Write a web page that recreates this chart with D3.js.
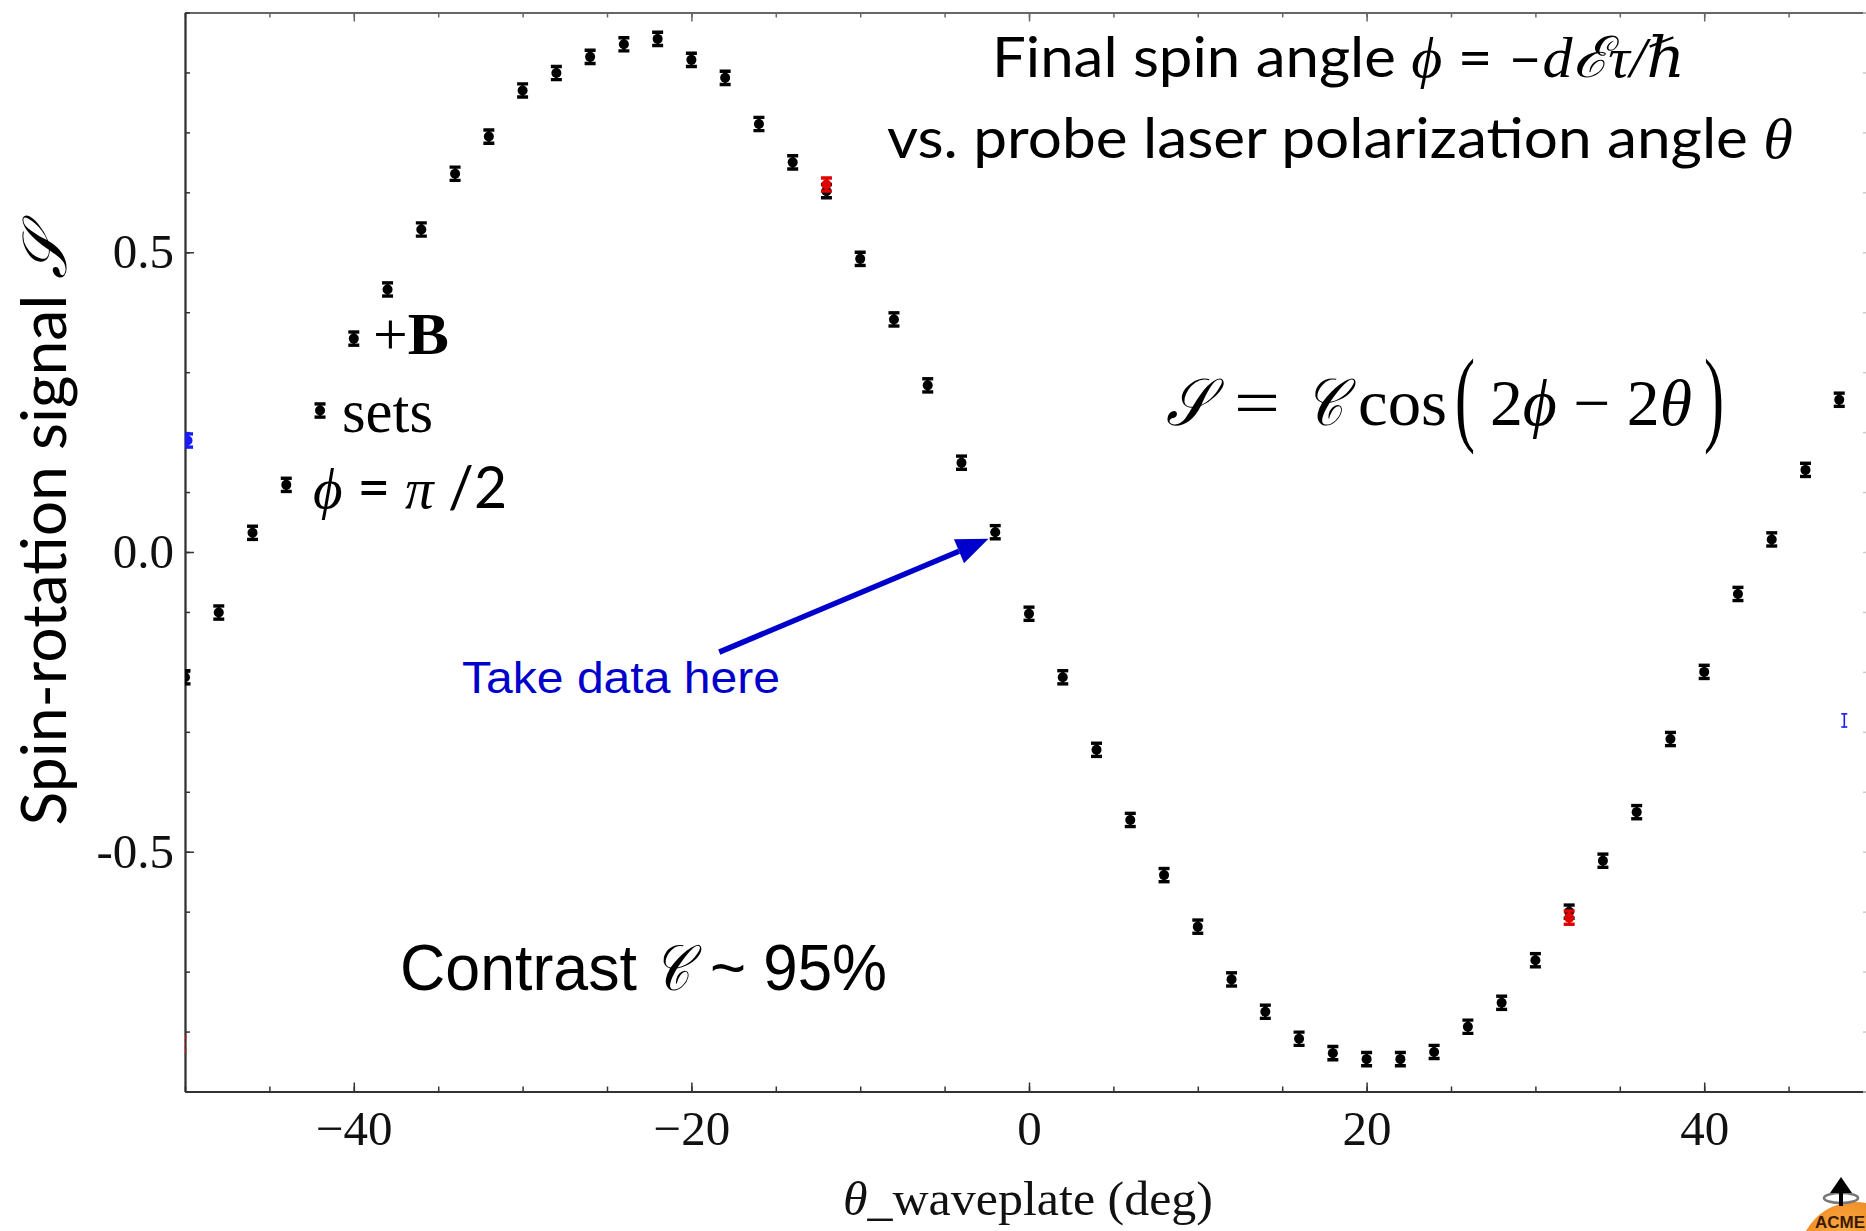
<!DOCTYPE html>
<html>
<head>
<meta charset="utf-8">
<script src="https://cdn.jsdelivr.net/npm/d3@7"></script>
<style>
  body { margin: 0; background: #fff; }
  svg { display: block; }
</style>
</head>
<body>
<script>
// page size
var width = 1866;
var height = 1231;

// waveplate angle (deg) and spin-rotation signal
var angles = [-50, -48, -46, -44, -42, -40, -38, -36, -34, -32,
              -30, -28, -26, -24, -22, -20, -18, -16, -14, -12,
              -10, -8, -6, -4, -2, 0, 2, 4, 6, 8,
              10, 12, 14, 16, 18, 20, 22, 24, 26, 28,
              30, 32, 34, 36, 38, 40, 42, 44, 46, 48];
var signal = [-0.209, -0.101, 0.032, 0.112, 0.236, 0.356, 0.438, 0.538, 0.631, 0.693,
              0.770, 0.799, 0.826, 0.847, 0.856, 0.821, 0.791, 0.714, 0.650, 0.602,
              0.489, 0.388, 0.278, 0.149, 0.033, -0.103, -0.209, -0.330, -0.447, -0.539,
              -0.625, -0.713, -0.767, -0.812, -0.836, -0.846, -0.846, -0.834, -0.792, -0.752,
              -0.681, -0.600, -0.515, -0.434, -0.312, -0.200, -0.070, 0.021, 0.137, 0.254];
var errBar = 0.011;

// stray markers from the other runs (red and blue)
var redAngles = [-50.25, -12, 32];
var redSignal = [-0.821, 0.613, -0.610];
var blueAngles = [-49.85, 48.3];
var blueSignal = [0.186, -0.281];

// ticks
var xTicks = [-40, -20, 0, 20, 40];
var yTicks = [-0.5, 0.0, 0.5];
var yTickText = ['-0.5', '0.0', '0.5'];

var serif = 'Liberation Serif, Times New Roman, serif';
var mathFont = 'Liberation Serif, DejaVu Serif, serif';
var calib = 'Lato, Noto Sans, sans-serif';
var arial = 'Liberation Sans, Arial, sans-serif';

// scales
var x = d3.scaleLinear().domain([-50, 50]).range([185, 1873]);
var y = d3.scaleLinear().domain([-0.9, 0.9]).range([1091.5, 12.5]);

var svg = d3.select('body').append('svg')
  .attr('width', width)
  .attr('height', height);

svg.append('rect').attr('width', width).attr('height', height).attr('fill', '#fff');

svg.append('defs').append('clipPath').attr('id', 'plotClip')
  .append('rect')
  .attr('x', x(-50)).attr('y', y(0.9))
  .attr('width', x(50) - x(-50)).attr('height', y(-0.9) - y(0.9));

// axis helper
function styleAxis(g, col) {
  g.attr('font-family', serif).attr('font-size', 49);
  g.select('.domain').attr('stroke', col).attr('stroke-width', 1.8);
  g.selectAll('.tick line').attr('stroke', col).attr('stroke-width', 1.5);
  g.selectAll('.tick text').attr('fill', '#111');
}

var minorX = d3.range(-50, 51, 5);
var minorY = d3.range(-9, 10).map(function(d) { return d / 10; });

// bottom
svg.append('g').attr('transform', 'translate(0,' + y(-0.9) + ')')
  .call(d3.axisBottom(x).tickValues(minorX).tickSizeInner(-5).tickSizeOuter(0).tickFormat(''))
  .call(styleAxis, '#333');
svg.append('g').attr('transform', 'translate(0,' + y(-0.9) + ')')
  .call(d3.axisBottom(x).tickValues(xTicks).tickSizeInner(-9).tickSizeOuter(0).tickPadding(19)
    .tickFormat(function(d) { return d < 0 ? '\u2212' + Math.abs(d) : d; }))
  .call(styleAxis, '#333');

// top
svg.append('g').attr('transform', 'translate(0,' + y(0.9) + ')')
  .call(d3.axisTop(x).tickValues(minorX).tickSizeInner(-5).tickSizeOuter(0).tickFormat(''))
  .call(styleAxis, '#666');
svg.append('g').attr('transform', 'translate(0,' + y(0.9) + ')')
  .call(d3.axisTop(x).tickValues(xTicks).tickSizeInner(-9).tickSizeOuter(0).tickFormat(''))
  .call(styleAxis, '#666');

// left
svg.append('g').attr('transform', 'translate(' + x(-50) + ',0)')
  .call(d3.axisLeft(y).tickValues(minorY).tickSizeInner(-5).tickSizeOuter(0).tickFormat(''))
  .call(styleAxis, '#333');
svg.append('g').attr('transform', 'translate(' + x(-50) + ',0)')
  .call(d3.axisLeft(y).tickValues(yTicks).tickSizeInner(-9).tickSizeOuter(0).tickPadding(11)
    .tickFormat(function(d, i) { return yTickText[i]; }))
  .call(styleAxis, '#333');

// right (mostly off the page, only tick tips show)
svg.append('g').attr('transform', 'translate(' + x(50) + ',0)')
  .call(d3.axisRight(y).tickValues(minorY).tickSizeInner(-10).tickSizeOuter(0).tickFormat(''))
  .call(styleAxis, '#ccc');

// data points with error bars
var pts = angles.map(function(a, i) { return {a: a, v: signal[i], c: '#000', dot: true}; });
redAngles.forEach(function(a, i) { pts.push({a: a, v: redSignal[i], c: '#e00000', dot: true}); });
blueAngles.forEach(function(a, i) { pts.push({a: a, v: blueSignal[i], c: '#1a1aff', dot: i === 0}); });

var marks = svg.append('g').attr('clip-path', 'url(#plotClip)')
  .selectAll('g').data(pts).enter().append('g')
  .attr('transform', function(d) { return 'translate(' + x(d.a) + ',0)'; });

marks.append('line')
  .attr('y1', function(d) { return y(d.v - errBar); })
  .attr('y2', function(d) { return y(d.v + errBar); })
  .attr('stroke', function(d) { return d.c; })
  .attr('stroke-width', function(d) { return d.dot ? 2.6 : 1.6; });
marks.selectAll('.cap').data(function(d) { return [{d: d, e: errBar}, {d: d, e: -errBar}]; })
  .enter().append('line')
  .attr('x1', function(c) { return c.d.dot ? -5.5 : -3; })
  .attr('x2', function(c) { return c.d.dot ? 5.5 : 3; })
  .attr('y1', function(c) { return y(c.d.v + c.e); })
  .attr('y2', function(c) { return y(c.d.v + c.e); })
  .attr('stroke', function(c) { return c.d.c; })
  .attr('stroke-width', function(c) { return c.d.dot ? 3.4 : 1.6; });
marks.filter(function(d) { return d.dot; }).append('circle')
  .attr('cy', function(d) { return y(d.v); })
  .attr('r', 5)
  .attr('fill', function(d) { return d.c; });

// squeeze or stretch a text element to a target width
function setWidth(t, target) {
  return t.attr('textLength', target).attr('lengthAdjust', 'spacingAndGlyphs');
}

// one piece of text at a spot, fitted to a width
function piece(px, py, str, fam, size, w, italic) {
  var t = svg.append('text').attr('x', px).attr('y', py)
    .attr('font-family', fam).attr('font-size', size).attr('fill', '#000')
    .attr('font-style', italic ? 'italic' : null)
    .text(str);
  if (w) setWidth(t, w);
  return t;
}

// title lines
var t1 = svg.append('text').attr('x', 992).attr('y', 77)
  .attr('font-family', calib).attr('font-size', 57).attr('fill', '#000');
t1.append('tspan').text('Final spin angle ');
t1.append('tspan').attr('font-family', mathFont).attr('font-style', 'italic').text('\u03D5');
t1.append('tspan').text(' = \u2013');
t1.append('tspan').attr('font-family', mathFont).attr('font-style', 'italic').text('d\u2130\u03C4/\u210F');
setWidth(t1, 693);

var t2 = svg.append('text').attr('x', 887).attr('y', 158)
  .attr('font-family', calib).attr('font-size', 57).attr('fill', '#000');
t2.append('tspan').text('vs. probe laser polarization angle ');
t2.append('tspan').attr('font-family', mathFont).attr('font-style', 'italic').text('\u03B8');
setWidth(t2, 906);

// formula, S = C cos(2phi - 2theta), set piece by piece
piece(1166, 425, '\uD835\uDCAE', mathFont, 66, 44, true);
piece(1234, 425, '=', mathFont, 66, 46);
piece(1305, 425, '\uD835\uDC9E', mathFont, 66, 38, true);
piece(1358, 425, 'cos', mathFont, 66, 89);
piece(1455, 432, '(', mathFont, 106, 20);
var inner = svg.append('text').attr('x', 1490).attr('y', 425)
  .attr('font-family', mathFont).attr('font-size', 66).attr('fill', '#000');
inner.append('tspan').text('2');
inner.append('tspan').attr('font-style', 'italic').text('\u03D5');
inner.append('tspan').text(' \u2212 2');
inner.append('tspan').attr('font-style', 'italic').text('\u03B8');
setWidth(inner, 202);
piece(1704, 432, ')', mathFont, 106, 20);

// +B sets phi = pi/2
var b = svg.append('text').attr('x', 373).attr('y', 354)
  .attr('font-family', serif).attr('font-size', 60).attr('fill', '#000');
b.append('tspan').text('+');
b.append('tspan').attr('font-weight', 'bold').text('B');
setWidth(b, 76);

piece(342, 432, 'sets', serif, 61, 91);

var p = svg.append('text').attr('x', 313).attr('y', 508)
  .attr('font-family', calib).attr('font-size', 58).attr('fill', '#000');
p.append('tspan').attr('font-family', mathFont).attr('font-style', 'italic').text('\u03D5');
p.append('tspan').text(' = ');
p.append('tspan').attr('font-family', mathFont).attr('font-style', 'italic').text('\u03C0');
p.append('tspan').text(' /2');
setWidth(p, 194);

// take data here + arrow
piece(462, 693, 'Take data here', arial, 44, 318).attr('fill', '#0000cc');

var tail = [x(-18.35), y(-0.167)];
var tip = [x(-2.4), y(0.022)];
var ang = Math.atan2(tip[1] - tail[1], tip[0] - tail[0]);
var headLen = 32, headW = 13;
var base = [tip[0] - headLen * Math.cos(ang), tip[1] - headLen * Math.sin(ang)];
svg.append('line')
  .attr('x1', tail[0]).attr('y1', tail[1]).attr('x2', base[0]).attr('y2', base[1])
  .attr('stroke', '#0000cc').attr('stroke-width', 5.5);
svg.append('polygon')
  .attr('points', [tip,
    [base[0] + headW * Math.sin(ang), base[1] - headW * Math.cos(ang)],
    [base[0] - headW * Math.sin(ang), base[1] + headW * Math.cos(ang)]].join(' '))
  .attr('fill', '#0000cc');

// contrast
piece(400, 990, 'Contrast', arial, 64, 237);
piece(654, 990, '\uD835\uDC9E', mathFont, 64, 36, true);
piece(710, 990, '~ 95%', arial, 64, 177);

// axis titles
var yt = svg.append('text')
  .attr('transform', 'translate(66,528) rotate(-90)')
  .attr('text-anchor', 'middle')
  .attr('font-family', calib).attr('font-size', 62).attr('fill', '#000');
yt.append('tspan').text('Spin-rotation signal ');
yt.append('tspan').attr('font-family', mathFont).attr('font-style', 'italic').text('\uD835\uDCAE');
setWidth(yt, 595);

var xt = svg.append('text').attr('x', 1028).attr('y', 1215)
  .attr('text-anchor', 'middle')
  .attr('font-family', serif).attr('font-size', 49).attr('fill', '#111');
xt.append('tspan').attr('font-style', 'italic').text('\u03B8');
xt.append('tspan').text('_waveplate (deg)');
setWidth(xt, 370);

// little logo in the corner
var grad = svg.select('defs').append('radialGradient').attr('id', 'ball')
  .attr('cx', '40%').attr('cy', '30%').attr('r', '70%');
grad.append('stop').attr('offset', '0%').attr('stop-color', '#ffb04a');
grad.append('stop').attr('offset', '100%').attr('stop-color', '#e06a00');
svg.append('circle').attr('cx', 1855).attr('cy', 1258).attr('r', 56).attr('fill', 'url(#ball)');
svg.append('text').attr('x', 1815).attr('y', 1228)
  .attr('font-family', arial).attr('font-weight', 'bold').attr('font-size', 17)
  .attr('fill', '#3a1a00').text('ACME');
svg.append('ellipse').attr('cx', 1841).attr('cy', 1198).attr('rx', 17).attr('ry', 5)
  .attr('fill', 'none').attr('stroke', '#777').attr('stroke-width', 2.5);
svg.append('line').attr('x1', 1841).attr('y1', 1190).attr('x2', 1841).attr('y2', 1206)
  .attr('stroke', '#000').attr('stroke-width', 4);
svg.append('polygon').attr('points', '1841,1177 1830,1193 1852,1193').attr('fill', '#000');
</script>
</body>
</html>
